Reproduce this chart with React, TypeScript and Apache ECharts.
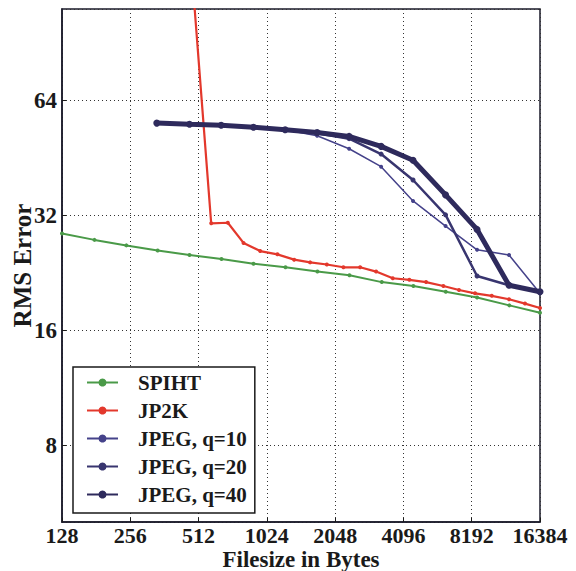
import React, { useEffect, useRef } from 'react';
import * as echarts from 'echarts';

const xTicks = [128, 256, 512, 1024, 2048, 4096, 8192, 16384];
const yTicks = [8, 16, 32, 64];

const spihtSize = [128, 178, 246, 338, 467, 646, 894, 1237, 1711, 2368, 3287, 4531, 6295, 8648, 12000, 16384];
const spihtRms = [28.7, 27.6, 26.7, 25.9, 25.2, 24.6, 23.9, 23.4, 22.8, 22.3, 21.4, 20.9, 20.2, 19.5, 18.6, 17.8];

const jp2kSize = [491, 582, 689, 808, 957, 1140, 1351, 1589, 1882, 2227, 2639, 3104, 3676, 4351, 5153, 6143, 7202, 8474, 10037, 11962, 14070, 16384];
const jp2kRms = [113, 30.5, 30.6, 27.1, 25.8, 25.3, 24.5, 24.1, 23.8, 23.4, 23.4, 22.8, 21.9, 21.7, 21.4, 20.9, 20.4, 20.0, 19.7, 19.3, 18.8, 18.3];

const jpegSize = [335, 467, 644, 894, 1233, 1706, 2360, 3266, 4515, 6282, 8648, 11962, 16384];
const jpegQ10 = [55.8, 55.4, 55.1, 54.4, 53.6, 51.7, 47.8, 42.9, 34.9, 30.0, 26.0, 25.2, 20.0];
const jpegQ20 = [55.8, 55.4, 55.1, 54.4, 53.6, 52.5, 50.8, 46.3, 39.6, 32.1, 22.2, 21.0, 20.2];
const jpegQ40 = [55.8, 55.4, 55.1, 54.4, 53.6, 52.7, 51.5, 48.5, 44.6, 36.2, 29.4, 21.0, 20.2];

const FONT = '"Liberation Serif", "Times New Roman", serif';

const zip = (xs: number[], ys: number[]) => xs.map((x, i) => [x, ys[i]]);

const isTick = (v: number, list: number[]) => list.some((t) => Math.abs(Math.log2(v) - Math.log2(t)) < 1e-4);

export default function App() {
  const ref = useRef<HTMLDivElement>(null);
  useEffect(() => {
    if (!ref.current) return;
    const chart = echarts.init(ref.current, null, { renderer: 'svg' });
    const mk = (name: string, xs: number[], ys: number[], color: string, width: number, sym: number) => ({
      type: 'line',
      name,
      data: zip(xs, ys),
      symbol: 'circle',
      symbolSize: sym,
      showSymbol: true,
      lineStyle: { color, width },
      itemStyle: { color },
      clip: true,
    });
    chart.setOption({
      animation: false,
      backgroundColor: '#ffffff',
      grid: {
        left: 62,
        right: 36,
        top: 9,
        bottom: 49,
        containLabel: false,
        outerBoundsMode: 'none',
        show: true,
        borderColor: '#1a1a2a',
        borderWidth: 1.5,
        backgroundColor: 'transparent',
      },
      legend: {
        orient: 'vertical',
        left: 73,
        top: 367,
        padding: [5, 8, 8, 13],
        itemGap: 7,
        itemWidth: 31,
        itemHeight: 10,
        borderColor: '#1a1a1a',
        borderWidth: 1.5,
        backgroundColor: '#ffffff',
        textStyle: { fontFamily: FONT, fontWeight: 'bold', fontSize: 21, color: '#1a1a1a', padding: [0, 0, 0, 15] },
        data: ['SPIHT', 'JP2K', 'JPEG, q=10', 'JPEG, q=20', 'JPEG, q=40'],
      },
      xAxis: {
        type: 'log',
        logBase: 2,
        min: 128,
        max: 16384,
        name: 'Filesize in Bytes',
        nameLocation: 'middle',
        nameGap: 27,
        nameMoveOverlap: false,
        nameTextStyle: { fontFamily: FONT, fontWeight: 'bold', fontSize: 23, lineHeight: 20, color: '#1a1a1a' },
        axisLine: { show: true, lineStyle: { color: '#1a1a2a', width: 1.5 } },
        axisTick: { show: true, inside: true, length: 4, lineStyle: { color: '#1a1a1a' } },
        axisLabel: {
          fontFamily: FONT,
          fontWeight: 'bold',
          fontSize: 22,
          lineHeight: 18,
          color: '#1a1a1a',
          margin: 4,
          formatter: (v: number) => (isTick(v, xTicks) ? String(Math.round(v)) : ''),
        },
        splitLine: { show: true, lineStyle: { color: '#333333', type: [1, 3], width: 1 } },
      },
      yAxis: {
        type: 'log',
        logBase: 2,
        min: 5.04,
        max: 111,
        name: 'RMS Error',
        nameLocation: 'middle',
        nameGap: 30,
        nameMoveOverlap: false,
        nameTextStyle: { fontFamily: FONT, fontWeight: 'bold', fontSize: 25, lineHeight: 20, color: '#1a1a1a' },
        axisLine: { show: true, lineStyle: { color: '#1a1a2a', width: 1.5 } },
        axisTick: { show: true, inside: true, length: 4, lineStyle: { color: '#1a1a1a' } },
        axisLabel: {
          fontFamily: FONT,
          fontWeight: 'bold',
          fontSize: 23,
          color: '#1a1a1a',
          margin: 5,
          showMinLabel: false,
          showMaxLabel: false,
          formatter: (v: number) => (isTick(v, yTicks) ? String(Math.round(v)) : ''),
        },
        splitLine: { show: true, lineStyle: { color: '#333333', type: [1, 3], width: 1 } },
      },
      series: [
        mk('SPIHT', spihtSize, spihtRms, '#4a9a48', 2, 4),
        mk('JP2K', jp2kSize, jp2kRms, '#e3382c', 2.2, 4),
        mk('JPEG, q=10', jpegSize, jpegQ10, '#45428a', 1.5, 4),
        mk('JPEG, q=20', jpegSize, jpegQ20, '#38356f', 2.5, 5),
        mk('JPEG, q=40', jpegSize, jpegQ40, '#2e2a5c', 5, 7),
      ],
    });
    return () => chart.dispose();
  }, []);
  return <div ref={ref} style={{ position: 'fixed', left: 0, top: 0, width: 576, height: 571 }} />;
}
